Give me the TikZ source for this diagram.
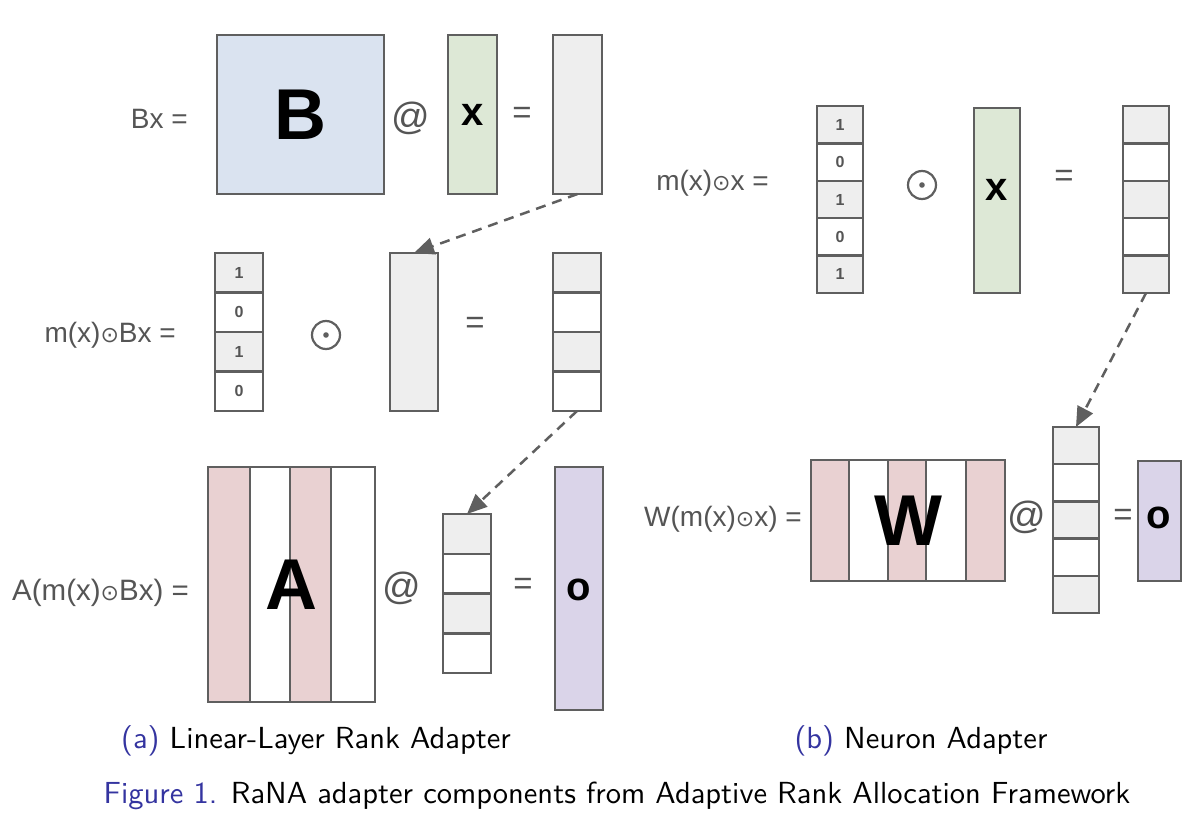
\documentclass[tikz,border=0pt]{standalone}
\usepackage{fontspec}
\setmainfont{Liberation Sans}
\newfontfamily\dejavu{DejaVu Sans}
\newfontfamily\capf{lmsans10-regular.otf}
\usetikzlibrary{arrows.meta}
\definecolor{lc}{RGB}{95,95,95}
\definecolor{tc}{RGB}{85,85,85}
\definecolor{cBlue}{RGB}{218,227,240}
\definecolor{cGreen}{RGB}{221,232,214}
\definecolor{cGray}{RGB}{238,238,238}
\definecolor{cPink}{RGB}{233,209,210}
\definecolor{cPurple}{RGB}{218,212,233}
\definecolor{capBlue}{RGB}{52,52,160}
\newcommand\fs[1]{\fontsize{#1}{#1}\selectfont}
\newcommand\od{{\dejavu\fontsize{22}{22}\selectfont ⊙}}
% column vector with cells: name, x1, y1, x2, y2, n, fills
\newcommand\colvec[7]{%
  \pgfmathsetmacro\cellh{(#5-#3)/#6}%
  \foreach \f [count=\i from 0] in {#7} {%
    \draw[cellline, fill=\f] (#2,{#3+\i*\cellh}) rectangle (#4,{#3+(\i+1)*\cellh});
  }%
  \node[box, minimum width={(#4-#2)*1pt}, minimum height={(#5-#3)*1pt}] (#1) at (#2,#3) {};
}
\tikzset{
  box/.style={draw=lc, line width=2.5pt, inner sep=0pt, outer sep=0pt, anchor=north west},
  cellline/.style={draw=lc, line width=2.5pt},
  lbl/.style={text=tc, font=\fs{28}, anchor=base east, inner sep=0pt},
  opat/.style={text=tc, font=\fs{38}, inner sep=0pt},
  eqs/.style={text=tc, font=\fs{33}, inner sep=0pt},
  bigl/.style={font=\fs{72}\bfseries, inner sep=0pt},
  vecl/.style={font=\fs{40}\bfseries, inner sep=0pt},
  digit/.style={text=tc, font=\fs{16}\bfseries, inner sep=0pt},
  flow/.style={draw=lc, line width=2.5pt, dash pattern=on 10pt off 7pt, -{Triangle[length=20pt,width=17pt]}},
  odotc/.style={circle, draw=lc, line width=2.2pt, minimum size=28pt, inner sep=0pt},
  captext/.style={font=\capf\fs{30.5}, inner sep=0pt}
}
\begin{document}
\begin{tikzpicture}[x=1pt,y=-1pt]
\fill[white] (0,0) rectangle (1200,819);
\useasboundingbox (0,0) rectangle (1200,819);

% ---------- Panel (a) row 1 ----------
\node[lbl] (l1) at (188,128) {Bx =};
\node[box, fill=cBlue, minimum width=167pt, minimum height=159pt] (B) at (217,35) {};
\node[bigl] (Bt) at (B.center) {B};
\node[opat] (at1) at (411,118) {@};
\node[box, fill=cGreen, minimum width=49pt, minimum height=159pt] (x1) at (448,35) {};
\node[vecl] (x1t) at (472.5,115) {x};
\node[eqs] (eq1) at (522,115) {=};
\node[box, fill=cGray, minimum width=49pt, minimum height=159pt] (out1) at (553,35) {};

% ---------- Panel (a) row 2 ----------
\node[lbl] (l2) at (176,342) {m(x)\od Bx =};
\colvec{mask1}{215}{253}{263}{411}{4}{cGray,white,cGray,white}
\node[digit] at (239,272.75) {1};
\node[digit] at (239,312.25) {0};
\node[digit] at (239,351.75) {1};
\node[digit] at (239,391.25) {0};
\node[odotc] (od1) at (326,335) {};
\fill[lc] (od1.center) circle (2.8pt);
\node[box, fill=cGray, minimum width=48pt, minimum height=158pt] (bx2) at (390,253) {};
\node[eqs] (eq2) at (475,325) {=};
\colvec{res1}{553}{253}{601}{411}{4}{cGray,white,cGray,white}

% ---------- Panel (a) row 3 ----------
\node[lbl, font=\fs{29.5}] (l3) at (189,600) {A(m(x)\od Bx) =};
\fill[cPink] (208,467) rectangle (250,702);
\fill[cPink] (290,467) rectangle (331,702);
\node[box, minimum width=167pt, minimum height=235pt] (A) at (208,467) {};
\draw[cellline] (250,467) -- (250,702) (290,467) -- (290,702) (331,467) -- (331,702);
\node[bigl] (At) at (A.center) {A};
\node[opat] (at2) at (402,588) {@};
\colvec{vecA}{443}{514}{491}{673}{4}{cGray,white,cGray,white}
\node[eqs] (eq3) at (523,586) {=};
\node[box, fill=cPurple, minimum width=48pt, minimum height=243pt] (oA) at (555,467) {};
\node[vecl] (oAt) at (579,590) {o};

% ---------- Panel (b) row 1 ----------
\node[lbl] (l4) at (769,190) {m(x)\od x =};
\colvec{mask2}{817}{106}{863}{293}{5}{cGray,white,cGray,white,cGray}
\foreach \d [count=\i from 0] in {1,0,1,0,1} {
  \node[digit] at (840,{106+(\i+0.5)*37.4}) {\d};
}
\node[odotc] (od2) at (922,185) {};
\fill[lc] (od2.center) circle (2.8pt);
\node[box, fill=cGreen, minimum width=46pt, minimum height=185pt] (x2) at (974,108) {};
\node[vecl] (x2t) at (997,190) {x};
\node[eqs] (eq4) at (1064,178) {=};
\colvec{res2}{1123}{106}{1169}{293}{5}{cGray,white,cGray,white,cGray}

% ---------- Panel (b) row 2 ----------
\node[lbl] (l5) at (802,526) {W(m(x)\od x) =};
\fill[cPink] (811,460) rectangle (849,581);
\fill[cPink] (888,460) rectangle (926,581);
\fill[cPink] (966,460) rectangle (1005,581);
\node[box, minimum width=194pt, minimum height=121pt] (W) at (811,460) {};
\draw[cellline] (849,460) -- (849,581) (888,460) -- (888,581) (926,460) -- (926,581) (966,460) -- (966,581);
\node[bigl] (Wt) at (W.center) {W};
\node[opat] (at3) at (1027,517) {@};
\colvec{vecW}{1053}{427}{1099}{613}{5}{cGray,white,cGray,white,cGray}
\node[eqs] (eq5) at (1123,517) {=};
\node[box, fill=cPurple, minimum width=43pt, minimum height=120pt] (oW) at (1138,461) {};
\node[vecl] (oWt) at (1159,518) {o};

% ---------- connectors ----------
\draw[flow] (out1.south) -- (bx2.north);
\draw[flow] (res1.south) -- (vecA.north);
\draw[flow] (res2.south) -- (vecW.north);

% ---------- captions ----------
\node[captext] (capa) at (316,741) {\textcolor{capBlue}{(a)} Linear-Layer Rank Adapter};
\node[captext] (capb) at (921,741) {\textcolor{capBlue}{(b)} Neuron Adapter};
\node[captext] (fig) at (617,796) {\textcolor{capBlue}{Figure 1.} RaNA adapter components from Adaptive Rank Allocation Framework};
\end{tikzpicture}
\end{document}
